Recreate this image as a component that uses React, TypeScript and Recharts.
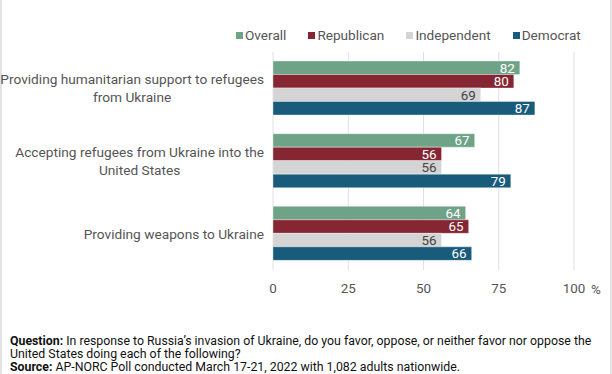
import { Bar, BarChart, CartesianGrid, LabelList, XAxis, YAxis } from 'recharts'

const categories = [
  'Providing humanitarian support to refugees\nfrom Ukraine',
  'Accepting refugees from Ukraine into the\nUnited States',
  'Providing weapons to Ukraine',
]
const overall = [82, 67, 64]
const republican = [80, 56, 65]
const independent = [69, 56, 56]
const democrat = [87, 79, 66]
const xTicks = [0, 25, 50, 75, 100]

const series = [
  { key: 'overall', name: 'Overall', color: '#6fa387', text: '#ffffff' },
  { key: 'republican', name: 'Republican', color: '#862633', text: '#ffffff' },
  { key: 'independent', name: 'Independent', color: '#d4d4d4', text: '#444444' },
  { key: 'democrat', name: 'Democrat', color: '#195b7b', text: '#ffffff' },
]

const data = categories.map((category, i) => ({
  category,
  overall: overall[i],
  republican: republican[i],
  independent: independent[i],
  democrat: democrat[i],
}))

const FONT = 'Roboto, sans-serif'
const SIZE = 13.4
const CAT_SIZE = 13.7

function measure(text: string, font: string) {
  const canvas = document.createElement('canvas')
  const ctx = canvas.getContext('2d')
  if (!ctx) return text.length * 6.2
  ctx.font = font
  return ctx.measureText(text).width
}

function CategoryTick(props: any) {
  const { x, y, payload } = props
  const lines: string[] = String(payload.value).split('\n')
  const widest = Math.max(...lines.map((l) => measure(l, `${CAT_SIZE}px Roboto`)))
  const cx = x - 1 - widest / 2
  const lineH = 18
  const startY = y - ((lines.length - 1) * lineH) / 2
  return (
    <text x={cx} y={startY} textAnchor="middle" fill="#555" fontSize={CAT_SIZE} fontFamily={FONT} dominantBaseline="central">
      {lines.map((line, i) => (
        <tspan key={i} x={cx} y={startY + i * lineH}>
          {line}
        </tspan>
      ))}
    </text>
  )
}

export default function App() {
  return (
    <div
      style={{
        position: 'absolute',
        top: 0,
        left: 0,
        width: 612,
        height: 374,
        background: '#fff',
        fontFamily: FONT,
        boxSizing: 'border-box',
        borderLeft: '2px solid #e3e3e3',
        borderRight: '2px solid #e3e3e3',
      }}
    >
      <div
        style={{
          position: 'absolute',
          top: 27,
          left: 234,
          display: 'flex',
          gap: 22,
          fontSize: 13.6,
          color: '#555',
        }}
      >
        {series.map((s) => (
          <div key={s.key} style={{ display: 'flex', alignItems: 'center' }}>
            <span style={{ width: 7, height: 7, background: s.color, marginRight: 2, display: 'inline-block' }} />
            {s.name}
          </div>
        ))}
      </div>
      <div style={{ position: 'absolute', top: 0, left: -2 }}>
        <BarChart
          width={612}
          height={300}
          data={data}
          layout="vertical"
          margin={{ top: 52, right: 38, left: 0, bottom: 0 }}
          barGap={0}
          barSize={13.5}
        >
          <CartesianGrid horizontal={false} stroke="#e0e0e0" />
          <XAxis
            type="number"
            domain={[0, 100]}
            ticks={xTicks}
            axisLine={false}
            tickLine={false}
            tickMargin={7}
            height={30}
            tick={{ fill: '#555', fontSize: SIZE, fontFamily: FONT }}
          />
          <YAxis
            type="category"
            dataKey="category"
            width={273}
            axisLine={false}
            tickLine={false}
            tick={<CategoryTick />}
          />
          {series.map((s) => (
            <Bar key={s.key} dataKey={s.key} name={s.name} fill={s.color} stroke="#ffffff" strokeOpacity={0.35} isAnimationActive={false}>
              <LabelList dataKey={s.key} position="insideRight" offset={5} fill={s.text} fontSize={SIZE} fontFamily={FONT} />
            </Bar>
          ))}
          <text x={591} y={289} fill="#555" fontSize={SIZE} fontFamily={FONT} dominantBaseline="central">
            %
          </text>
        </BarChart>
      </div>
      <div
        style={{
          position: 'absolute',
          top: 334,
          left: 8,
          fontSize: 13.2,
          lineHeight: '13px',
          color: '#111',
          whiteSpace: 'nowrap',
          transform: 'scaleX(0.934)',
          transformOrigin: 'left top',
        }}
      >
        <b>Question:</b> In response to Russia’s invasion of Ukraine, do you favor, oppose, or neither favor nor oppose the
        <br />
        United States doing each of the following?
        <br />
        <b>Source:</b> AP-NORC Poll conducted March 17-21, 2022 with 1,082 adults nationwide.
      </div>
    </div>
  )
}
